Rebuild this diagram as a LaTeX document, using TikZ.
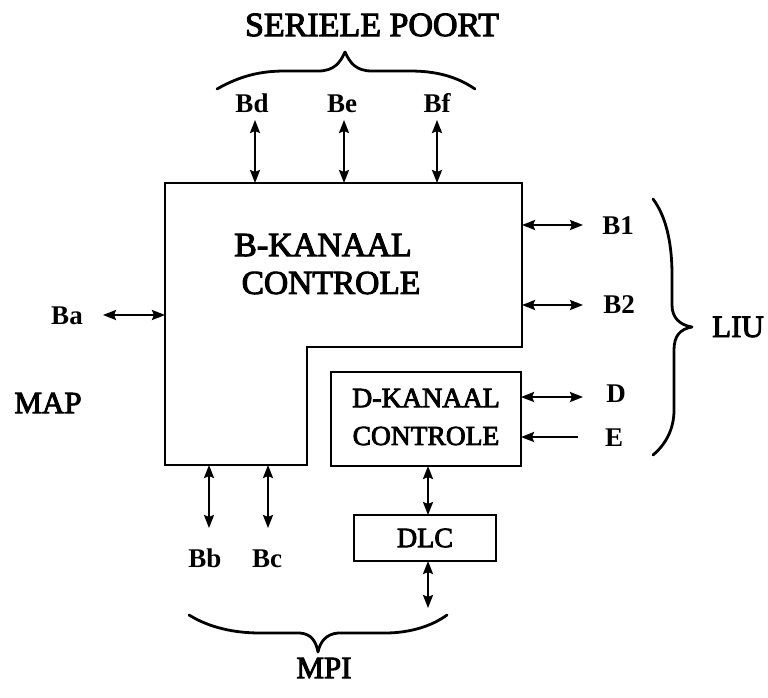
\documentclass[tikz,border=0pt]{standalone}
\usepackage{fontspec}
\setmainfont{Liberation Serif}
\newfontfamily\heavyserif{Liberation Serif}[FakeBold=3]
\usetikzlibrary{arrows.meta}
\begin{document}
\begin{tikzpicture}[x=1pt,y=-1pt,line width=2.4pt,
  big/.style={font=\heavyserif\fontsize{31}{31}\selectfont,inner sep=0pt},
  lbl/.style={font=\fontsize{27}{27}\selectfont\bfseries,inner sep=0pt,anchor=base},
  dbl/.style={{Stealth[length=13pt,width=10pt,inset=2pt]}-{Stealth[length=13pt,width=10pt,inset=2pt]}},
  sgl/.style={-{Stealth[length=13pt,width=10pt,inset=2pt]}},
  brace/.style={line width=2.8pt,line cap=round,line join=round},
  boxd/.style={draw,line width=2.4pt,inner sep=0pt}]
\fill[white] (0,0) rectangle (768,698);
\useasboundingbox (0,0) rectangle (768,698);

% L-shaped B-KANAAL block
\coordinate (Ltl) at (165,183);
\coordinate (Ltr) at (522,183);
\coordinate (Lsr) at (522,347);
\coordinate (Lsl) at (307,347);
\coordinate (Lbr) at (307,465);
\coordinate (Lbl) at (165,465);
\draw (Ltl) -- (Ltr) -- (Lsr) -- (Lsl) -- (Lbr) -- (Lbl) -- cycle;
\node[big,font=\heavyserif\fontsize{34}{34}\selectfont] (bk1) at (323,245) {B-KANAAL};
\node[big,font=\heavyserif\fontsize{33.5}{34}\selectfont] (bk2) at (331,283) {CONTROLE};

% D-KANAAL box
\node[boxd,minimum width=190pt,minimum height=94pt] (dk) at (426,419) {};
\node[big,font=\heavyserif\fontsize{28}{28}\selectfont] (dk1) at (426,398) {D-KANAAL};
\node[big,font=\heavyserif\fontsize{27.5}{28}\selectfont] (dk2) at (426,436) {CONTROLE};

% DLC box
\node[boxd,minimum width=142pt,minimum height=46pt,font=\heavyserif\fontsize{28}{28}\selectfont] (dlc) at (425,538) {DLC};

% titles
\node[big,font=\heavyserif\fontsize{34}{34}\selectfont] (sp) at (372,25) {SERIELE POORT};
\node[big] (map) at (48,403) {MAP};
\node[big] (liu) at (738,327) {LIU};
\node[big] (mpi) at (324,668) {MPI};

% small labels (base anchored)
\node[lbl] (bd) at (252,113) {Bd};
\node[lbl] (be) at (342,113) {Be};
\node[lbl] (bf) at (437,113) {Bf};
\node[lbl] (b1) at (618,234) {B1};
\node[lbl] (b2) at (619,313) {B2};
\node[lbl] (ba) at (67,324) {Ba};
\node[lbl] (d) at (616,402) {D};
\node[lbl] (e) at (614,446) {E};
\node[lbl] (bb) at (205,567) {Bb};
\node[lbl] (bc) at (267,567) {Bc};

% arrow endpoints
\coordinate (bdt) at (255,120); \coordinate (bdb) at (255,183);
\coordinate (bet) at (344,120); \coordinate (beb) at (344,183);
\coordinate (bft) at (437,120); \coordinate (bfb) at (437,183);
\coordinate (b1l) at (522,225); \coordinate (b1r) at (583,225);
\coordinate (b2l) at (522,305); \coordinate (b2r) at (583,305);
\coordinate (bal) at (103,315); \coordinate (bar) at (165,315);
\coordinate (dl) at (521,397); \coordinate (dr) at (583,397);
\coordinate (el) at (521,437); \coordinate (er) at (578,437);
\coordinate (bbt) at (209,465); \coordinate (bbb) at (209,528);
\coordinate (bct) at (268,465); \coordinate (bcb) at (268,528);
\coordinate (dkb) at (428,466); \coordinate (dlct) at (428,515);
\coordinate (dlcb) at (428,561); \coordinate (mpit) at (428,608);

\draw[dbl] (bdt) -- (bdb);
\draw[dbl] (bet) -- (beb);
\draw[dbl] (bft) -- (bfb);
\draw[dbl] (b1l) -- (b1r);
\draw[dbl] (b2l) -- (b2r);
\draw[dbl] (bal) -- (bar);
\draw[dbl] (dl) -- (dr);
\draw[sgl] (er) -- (el);
\draw[dbl] (bbt) -- (bbb);
\draw[dbl] (bct) -- (bcb);
\draw[dbl] (dkb) -- (dlct);
\draw[dbl] (dlcb) -- (mpit);

% braces
\draw[brace] (217,89) .. controls (240,76) and (260,71) .. (285,71) -- (318,71)
  .. controls (334,71) and (340,63) .. (345,52)
  .. controls (350,63) and (356,71) .. (372,71) -- (410,71)
  .. controls (435,71) and (456,76) .. (475,89);
\draw[brace] (189,615) .. controls (210,628) and (235,633) .. (260,633) -- (300,633)
  .. controls (312,634) and (316,642) .. (318,652)
  .. controls (320,642) and (326,634) .. (338,633) -- (385,633)
  .. controls (410,633) and (432,626) .. (447,615);
\draw[brace] (653,199) .. controls (665,215) and (672,240) .. (672,275) -- (672,305)
  .. controls (672,318) and (680,325) .. (692,327)
  .. controls (680,329) and (674,336) .. (674,350) -- (674,410)
  .. controls (674,430) and (665,445) .. (653,455);
\end{tikzpicture}
\end{document}
